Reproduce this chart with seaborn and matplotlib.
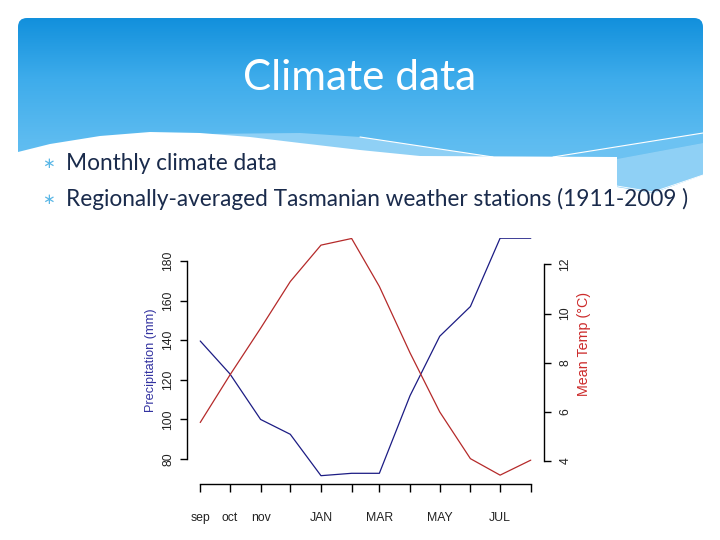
import numpy as np
import pandas as pd
import matplotlib
matplotlib.use('Agg')
import matplotlib.pyplot as plt
import seaborn as sns
from matplotlib.patches import FancyBboxPatch, Polygon
from matplotlib.colors import LinearSegmentedColormap

# ---------------- data ----------------
month_labels = ['sep', 'oct', 'nov', '', 'JAN', '', 'MAR', '', 'MAY', '', 'JUL', '']
month_day = [0, 30, 61, 91, 122, 153, 181, 212, 242, 273, 303, 334]
precip_mm = [139.6, 123, 100, 92.5, 71.6, 72.8, 72.8, 112, 142, 157, 191.5, 191.5]
temp_c = [5.57, 7.5, 9.4, 11.3, 12.78, 13.05, 11.1, 8.4, 6.0, 4.1, 3.43, 4.04]
precip_ticks = [80, 100, 120, 140, 160, 180]
temp_ticks = [4, 6, 8, 10, 12]
title = 'Climate data'
bullets = ['Monthly climate data',
           'Regionally-averaged Tasmanian weather stations (1911-2009 )']

sns.set_theme(style='white')
plt.rcParams['font.family'] = ['Liberation Sans', 'DejaVu Sans']

fig = plt.figure(figsize=(7.2, 5.4), dpi=100)
fig.patch.set_facecolor('white')

# ---------------- slide background ----------------
bg = fig.add_axes([0, 0, 1, 1], zorder=0)
bg.set_xlim(0, 720)
bg.set_ylim(540, 0)
bg.axis('off')

cmap = LinearSegmentedColormap.from_list('hdr', ['#1290dc', '#3eaceb', '#5cbbf0', '#70c5f3'])
grad = np.linspace(0, 1, 256).reshape(-1, 1)
im = bg.imshow(grad, cmap=cmap, extent=[18, 703, 200, 18], aspect='auto',
               origin='upper', zorder=1)
rounded = FancyBboxPatch((18, 18), 685, 182, boxstyle='round,pad=0,rounding_size=9',
                         transform=bg.transData, facecolor='none', edgecolor='none')
bg.add_patch(rounded)
im.set_clip_path(rounded)

mid = Polygon([(360, 137), (493, 157), (553, 157), (703, 133), (703, 143),
               (617, 159), (617, 157), (493, 159)],
              closed=True, facecolor='#6cc2f2', edgecolor='none', zorder=2)
bg.add_patch(mid)
light = Polygon([(200, 134), (300, 133), (360, 137), (493, 157), (617, 159),
                 (703, 143), (703, 175), (653, 193), (617, 187), (617, 157), (200, 157)],
                closed=True, facecolor='#8fd0f5', edgecolor='none', zorder=2)
bg.add_patch(light)
white_wave = Polygon([(18, 152), (50, 144), (100, 136), (150, 132), (200, 133),
                      (250, 137), (300, 143), (360, 150), (420, 156), (617, 157),
                      (617, 187), (653, 193), (703, 175), (720, 175), (720, 260),
                      (0, 260), (0, 152)],
                     closed=True, facecolor='white', edgecolor='none', zorder=3)
bg.add_patch(white_wave)
bg.plot([360, 493], [137, 157], color='white', lw=0.8, zorder=3)
bg.plot([553, 703], [157, 133], color='white', lw=0.8, zorder=3)
bg.plot([617, 653, 703], [186, 192, 175], color='white', lw=0.6, zorder=3)

bg.text(360, 78, title, color='white', fontsize=30.4, ha='center', va='center',
        family=['Lato', 'DejaVu Sans'], zorder=5)
for yy, txt in zip([163, 199], bullets):
    bg.text(48, yy + 1, '\u2217', color='#5ab7e6', fontsize=11, ha='center',
            va='center', family=['DejaVu Sans'], zorder=5)
    bg.text(66, yy, txt, color='#1a2b4c', fontsize=16.3, ha='left', va='center',
            family=['Lato', 'DejaVu Sans'], zorder=5)

# ---------------- chart ----------------
df = pd.DataFrame({'day': month_day, 'precip': precip_mm, 'temp': temp_c})

ax = fig.add_axes([187 / 720, 1 - 484 / 540, 357 / 720, 246 / 540], zorder=2)
ax.patch.set_alpha(0)
sns.lineplot(data=df, x='day', y='precip', ax=ax, color='#1c1c84', lw=0.9)
ax2 = ax.twinx()
ax2.patch.set_alpha(0)
sns.lineplot(data=df, x='day', y='temp', ax=ax2, color='#b52a2a', lw=0.9)

ax.set_xlim(-13.36, 347.36)
ax.set_ylim(67.4, 191.6)
ax2.set_ylim(3.07, 13.07)

for a in (ax, ax2):
    for s in a.spines.values():
        s.set_visible(False)
        s.set_color('black')
        s.set_linewidth(1)
ax.spines['left'].set_visible(True)
ax.spines['left'].set_bounds(80, 180)
ax.spines['bottom'].set_visible(True)
ax.spines['bottom'].set_bounds(month_day[0], month_day[-1])
ax2.spines['right'].set_visible(True)
ax2.spines['right'].set_bounds(4, 12)

ax.set_xticks(month_day)
ax.set_xticklabels(month_labels)
ax.tick_params(axis='x', bottom=True, direction='out', length=6, width=1,
               color='black', pad=14, labelsize=8.8, labelcolor='#222222')
ax.set_yticks(precip_ticks)
ax.tick_params(axis='y', left=True, direction='out', length=5, width=1,
               color='black', pad=4, labelsize=8.8, labelrotation=90, labelcolor='#222222')
ax2.set_yticks(temp_ticks)
ax2.tick_params(axis='y', right=True, direction='out', length=5, width=1,
                color='black', pad=6, labelsize=8.8, labelrotation=90, labelcolor='#222222')
for lbl in ax.get_yticklabels() + ax2.get_yticklabels():
    lbl.set_va('center')

ax.set_xlabel('')
ax.set_ylabel('Precipitation (mm)', color='#3232a0', fontsize=9.2)
ax.yaxis.set_label_coords(-0.084, 0.505)
ax2.set_ylabel('Mean Temp (\u00b0C)', color='#cc2a2a', fontsize=10.3)
ax2.yaxis.set_label_coords(1.092, 0.569)

fig.savefig('out.png', dpi=100)
